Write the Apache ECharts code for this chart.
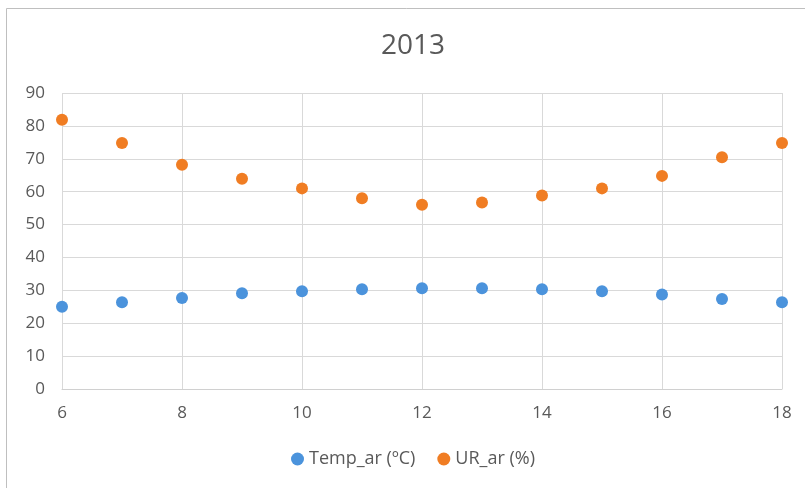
<!DOCTYPE html>
<html>
<head>
<meta charset="utf-8">
<script src="https://cdn.jsdelivr.net/npm/echarts@6/dist/echarts.min.js"></script>
<style>
  html, body { margin: 0; padding: 0; background: #fff; }
  #chart { width: 805px; height: 488px; }
</style>
</head>
<body>
<div id="chart"></div>
<script>
// Hourly readings, 2013
const hours = [6, 7, 8, 9, 10, 11, 12, 13, 14, 15, 16, 17, 18];
const tempAr = [25.0, 26.4, 27.7, 29.1, 29.7, 30.3, 30.6, 30.6, 30.3, 29.7, 28.7, 27.4, 26.4];
const urAr = [81.9, 74.8, 68.2, 63.9, 61.0, 58.0, 56.0, 56.7, 58.8, 61.0, 64.8, 70.5, 74.8];
const seriesNames = ['Temp_ar (ºC)', 'UR_ar (%)'];

const pairs = (xs, ys) => xs.map((x, i) => [x, ys[i]]);
const font = 'Open Sans, Noto Sans, sans-serif';

const chart = echarts.init(document.getElementById('chart'), null, { renderer: 'canvas' });
chart.setOption({
  animation: false,
  backgroundColor: '#fff',
  title: {
    text: '2013',
    left: 381,
    top: 32,
    padding: 0,
    textStyle: { fontFamily: font, fontSize: 28, fontWeight: 'normal', color: '#595959' }
  },
  legend: {
    top: 450,
    left: 291,
    padding: 0,
    itemWidth: 13,
    itemHeight: 13,
    itemGap: 22,
    textStyle: { fontFamily: font, fontSize: 18, color: '#595959' },
    data: seriesNames.map(n => ({ name: n, icon: 'circle' }))
  },
  grid: { left: 62, right: 23, top: 93, bottom: 99 },
  xAxis: {
    type: 'value',
    min: 6, max: 18, interval: 2,
    axisLine: { show: true, lineStyle: { color: '#d0d0d0', width: 1 } },
    axisTick: { show: false },
    splitLine: { show: true, lineStyle: { color: '#d9d9d9', width: 1 } },
    axisLabel: { margin: 16, fontFamily: font, fontSize: 17, color: '#595959' }
  },
  yAxis: {
    type: 'value',
    min: 0, max: 90, interval: 10,
    axisLine: { show: false },
    axisTick: { show: false },
    splitLine: { show: true, lineStyle: { color: '#d9d9d9', width: 1 } },
    axisLabel: { margin: 17, fontFamily: font, fontSize: 17, color: '#595959' }
  },
  series: [
    {
      name: seriesNames[0],
      type: 'scatter',
      symbol: 'circle',
      symbolSize: 12,
      itemStyle: { color: '#4b93dc', opacity: 1 },
      data: pairs(hours, tempAr)
    },
    {
      name: seriesNames[1],
      type: 'scatter',
      symbol: 'circle',
      symbolSize: 12,
      itemStyle: { color: '#f07d23', opacity: 1 },
      data: pairs(hours, urAr)
    }
  ],
  graphic: [{
    type: 'rect',
    silent: true,
    shape: { x: 6.5, y: 8.5, width: 820, height: 500 },
    style: { fill: 'none', stroke: '#bfbfbf', lineWidth: 1 }
  }]
});
</script>
</body>
</html>
